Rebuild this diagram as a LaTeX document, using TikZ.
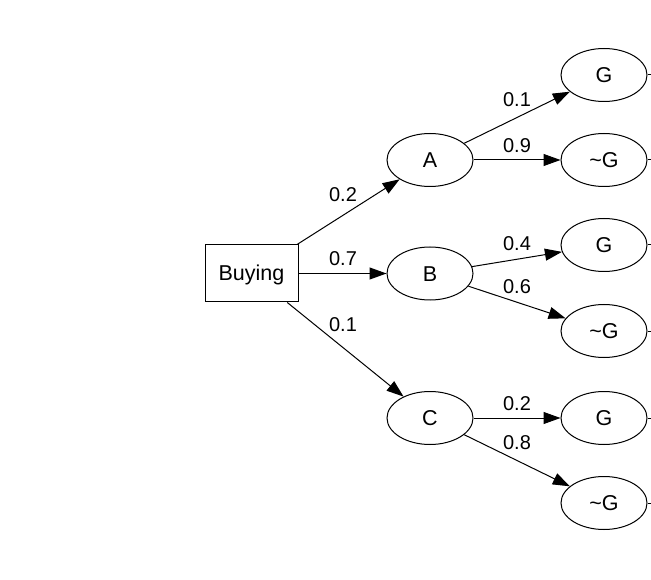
\documentclass[tikz,border=0pt]{standalone}
\usepackage{fontspec}
\setmainfont{Liberation Sans}
\usetikzlibrary{shapes.geometric,arrows.meta}
\begin{document}
\begin{tikzpicture}[x=1pt,y=-1pt,
  ell/.style={draw,ellipse,minimum width=86pt,minimum height=53pt,inner sep=0pt,font=\fontsize{21.5}{21.5}\selectfont,line width=1pt,text depth=0pt,text height=15.5pt},
  boxnode/.style={draw,rectangle,minimum width=93pt,minimum height=57pt,inner sep=0pt,font=\fontsize{21.5}{21.5}\selectfont,line width=1pt,text depth=2pt,text height=17pt},
  edge/.style={line width=1pt,-{Triangle[length=17pt,width=12pt]}},
  stub/.style={line width=1pt},
  lbl/.style={font=\fontsize{20}{20}\selectfont,inner sep=0pt}]
\useasboundingbox (0,0) rectangle (651,580);
\clip (0,0) rectangle (651,580);
\node[boxnode] (buy) at (251.5,273.5) {Buying};
\node[ell] (a) at (430,160) {A};
\node[ell] (b) at (430,273.5) {B};
\node[ell] (c) at (430,418) {C};
\node[ell] (g1) at (604,75) {G};
\node[ell] (n1) at (604,160) {\textasciitilde G};
\node[ell] (g2) at (604,245) {G};
\node[ell] (n2) at (604,331) {\textasciitilde G};
\node[ell] (g3) at (604,418) {G};
\node[ell] (n3) at (604,503) {\textasciitilde G};
\draw[edge] (buy) -- (a);
\draw[edge] (buy) -- (b);
\draw[edge] (buy) -- (c);
\draw[edge] (a) -- (g1);
\draw[edge] (a) -- (n1);
\draw[edge] (b) -- (g2);
\draw[edge] (b) -- (n2);
\draw[edge] (c) -- (g3);
\draw[edge] (c) -- (n3);
\node[lbl] (l1) at (343,195) {0.2};
\node[lbl] (l2) at (343,259) {0.7};
\node[lbl] (l3) at (343,325) {0.1};
\node[lbl] (l4) at (517,100) {0.1};
\node[lbl] (l5) at (517,146) {0.9};
\node[lbl] (l6) at (517,244) {0.4};
\node[lbl] (l7) at (517,287) {0.6};
\node[lbl] (l8) at (517,404) {0.2};
\node[lbl] (l9) at (517,443) {0.8};
\foreach \n/\y in {g1/75,n1/160,g2/245,n2/331,g3/418,n3/503}{
  \coordinate (s\n) at (670,\y);
  \draw[stub] (\n) -- (s\n);
}
\end{tikzpicture}
\end{document}
